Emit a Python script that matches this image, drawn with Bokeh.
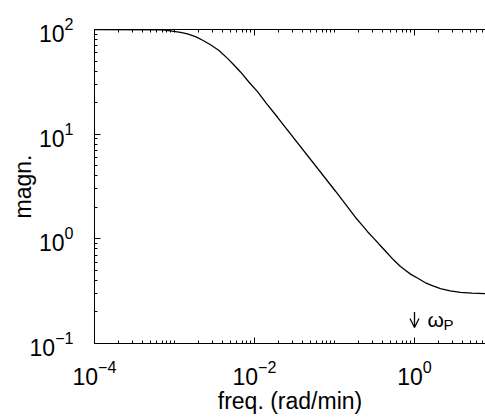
from bokeh.plotting import figure
from bokeh.models import LogAxis, Range1d, Label, FixedTicker, Arrow, OpenHead
from bokeh.embed import file_html
from bokeh.resources import INLINE

# Data
freq = [1e-4, 6.6e-4, 8.9e-4, 1.19e-3, 1.45e-3, 1.83e-3, 2.25e-3, 2.82e-3, 3.6e-3,
        4.6e-3, 5.5e-3, 6.68e-3, 8.5e-3, 1.09e-2, 1.4e-2, 1.94e-2,
        0.103, 0.137, 0.183, 0.22, 0.259, 0.31, 0.376, 0.45, 0.546, 0.668, 0.77,
        0.891, 1.1, 1.37, 1.7, 2.11, 2.8, 3.76, 5.2, 7.8]
magn = [100, 99.5, 97.0, 94.0, 91.0, 85.5, 79.0, 71.5, 63.0,
        53.0, 46.0, 39.3, 31.5, 25.5, 19.8, 14.5,
        2.85, 2.15, 1.60, 1.36, 1.17, 1.01, 0.86, 0.74, 0.63, 0.545, 0.50,
        0.46, 0.42, 0.38, 0.355, 0.335, 0.318, 0.308, 0.303, 0.30]

x_major_ticks = [1e-4, 1e-2, 1e0]
x_label = "freq. (rad/min)"
y_label = "magn."
marker_freq = 1.0
marker_text = "ω"
marker_sub = "P"

FONT = "Liberation Sans"

x_minor_ticks = [m * 10.0 ** e for e in range(-4, 1) for m in range(1, 10)]

p = figure(x_axis_type="log", y_axis_type="log",
           frame_width=391, frame_height=314,
           min_border_left=94, min_border_top=29, min_border_right=0, min_border_bottom=74,
           x_range=Range1d(1e-4, 10 ** 0.8875), y_range=Range1d(0.1, 100),
           output_backend="svg", toolbar_location=None,
           background_fill_color="white", border_fill_color="white")
p.outline_line_color = None
p.grid.visible = False

p.line(freq, magn, line_color="black", line_width=1.3)

p.xaxis.ticker = FixedTicker(ticks=x_major_ticks, minor_ticks=x_minor_ticks)

for ax in (p.xaxis[0], p.yaxis[0]):
    ax.major_tick_in = 6
    ax.major_tick_out = 0
    ax.minor_tick_in = 3
    ax.minor_tick_out = 0
    ax.axis_line_color = "black"
    ax.major_tick_line_color = "black"
    ax.minor_tick_line_color = "black"
    ax.major_label_text_font = FONT
    ax.major_label_text_font_size = "23px"
    ax.major_label_text_color = "black"
    ax.axis_label_text_font = FONT
    ax.axis_label_text_font_size = "23px"
    ax.axis_label_text_font_style = "normal"
    ax.axis_label_text_color = "black"

p.xaxis.axis_label = x_label
p.yaxis.axis_label = y_label
p.xaxis.major_label_standoff = 16
p.xaxis.axis_label_standoff = 0
p.yaxis.major_label_standoff = 21
p.yaxis.axis_label_standoff = -9

top = LogAxis(ticker=FixedTicker(ticks=x_major_ticks, minor_ticks=x_minor_ticks),
              major_tick_in=6, major_tick_out=0, minor_tick_in=3, minor_tick_out=0,
              major_label_text_font_size="1px", major_label_text_color=None,
              major_label_standoff=0, axis_line_color="black")
p.add_layout(top, "above")

p.add_layout(Arrow(x_start=marker_freq, y_start=0.2, x_end=marker_freq, y_end=0.142,
                   line_color="black", line_width=1.3,
                   end=OpenHead(size=9, line_color="black", line_width=1.3)))
p.add_layout(Label(x=marker_freq, y=0.17, x_offset=13, text=marker_text, text_font=FONT,
                   text_font_size="21px", text_align="left", text_baseline="middle",
                   text_color="black"))
p.add_layout(Label(x=marker_freq, y=0.17, x_offset=29, y_offset=-5, text=marker_sub,
                   text_font=FONT, text_font_size="15px", text_align="left",
                   text_baseline="middle", text_color="black"))

open("out.html", "w").write(file_html(p, INLINE))
